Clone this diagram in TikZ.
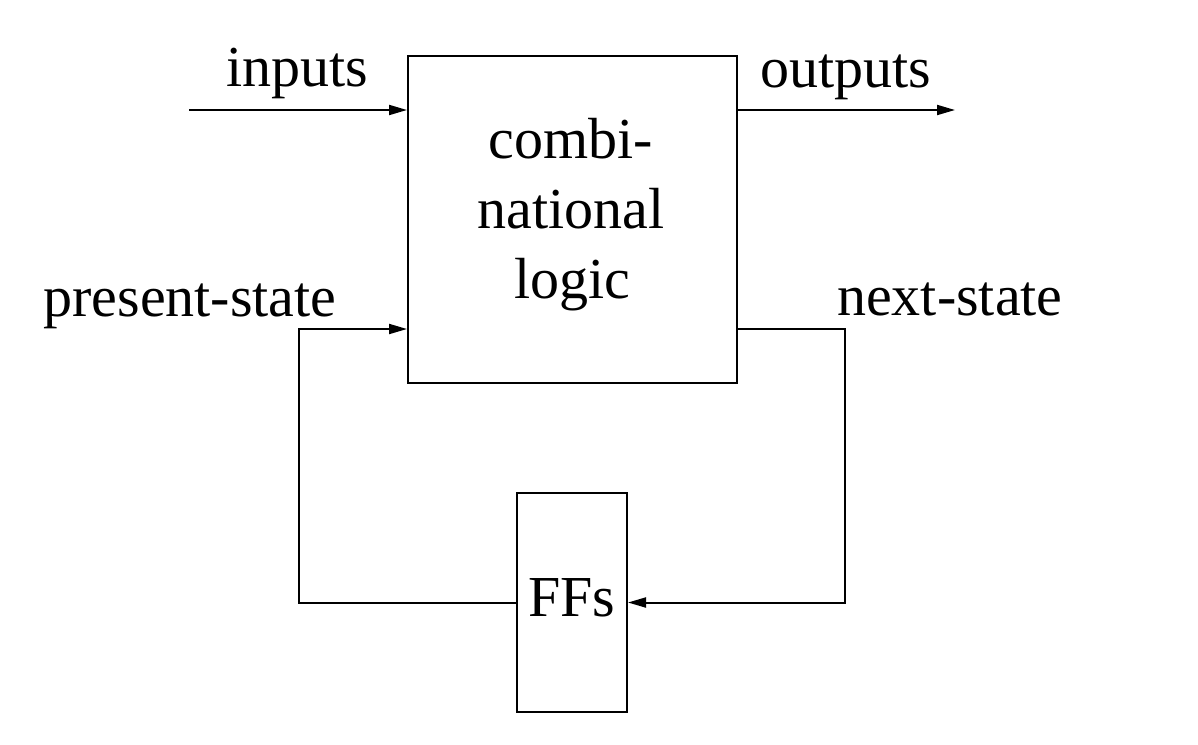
\documentclass[tikz,border=0pt]{standalone}
\usepackage{fontspec}
\setmainfont{Liberation Serif}
\usetikzlibrary{arrows.meta}
\tikzset{
  blk/.style={draw, line width=1pt, inner sep=0pt},
  lbl/.style={inner sep=0pt, font=\fontsize{29}{35}\selectfont},
  arr/.style={line width=1pt, -{Triangle[length=9pt,width=5pt]}}
}
\begin{document}
\begin{tikzpicture}[x=0.5pt,y=-0.5pt]
\useasboundingbox (0,0) rectangle (1198,744);
\node[blk, minimum width=164.5pt, minimum height=163.5pt] (cl) at (572.5,219.5) {};
\node[lbl, anchor=base] (cl1) at (571,158) {combi-};
\node[lbl, anchor=base] (cl2) at (571,228) {national};
\node[lbl, anchor=base] (cl3) at (572,298) {logic};
\node[blk, lbl, minimum width=55pt, minimum height=109.5pt, text height=13.5pt, text depth=0pt] (ff) at (572,602.5) {FFs};
\coordinate (inp) at (189,110);
\coordinate (outp) at (955,110);
\coordinate (psc) at (299,329);
\coordinate (nsc) at (845,329);
\draw[arr] (inp) -- (cl.west |- inp);
\draw[arr] (cl.east |- outp) -- (outp);
\draw[arr] (ff.west) -| (psc) -- (cl.west |- psc);
\draw[arr] (cl.east |- nsc) -- (nsc) |- (ff.east);
\node[lbl, anchor=base] (linp) at (297,86) {inputs};
\node[lbl, anchor=base] (lout) at (846,87) {outputs};
\node[lbl, anchor=base west] (lps) at (43,316) {present-state};
\node[lbl, anchor=base east] (lns) at (1063,315) {next-state};
\end{tikzpicture}
\end{document}
